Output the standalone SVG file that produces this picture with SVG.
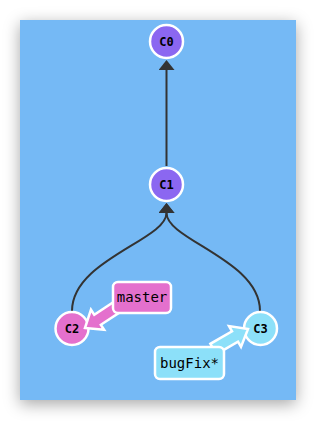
<svg xmlns="http://www.w3.org/2000/svg" width="316" height="421" viewBox="0 0 316 421">
<defs>
<filter id="sh" x="-20%" y="-20%" width="140%" height="140%"><feDropShadow dx="0" dy="4" stdDeviation="8" flood-color="#000" flood-opacity="0.35"/></filter>
<marker id="ah" viewBox="0 0 10 16" refX="0" refY="8" markerWidth="10" markerHeight="16" markerUnits="userSpaceOnUse" orient="auto"><path d="M0,0 L10,8 L0,16 Z" fill="#333"/></marker>
<style>
.edge{fill:none;stroke:#333;stroke-width:2;marker-end:url(#ah)}
.node circle{stroke:#fff;stroke-width:2.5}
.node text{font-family:"DejaVu Sans Mono","Liberation Mono",monospace;font-size:12px;font-weight:bold;text-anchor:middle;fill:#000}
.lbl rect,.lbl polygon{stroke:#fff;stroke-width:2.5;stroke-linejoin:miter}
.lbl text{font-family:"DejaVu Sans Mono","Liberation Mono",monospace;font-size:14px;text-anchor:middle;fill:#000}
.purple{fill:#8b67f1}.pink{fill:#e470cd}.cyan{fill:#8ce0f9}
</style>
</defs>
<rect x="20" y="20" width="276" height="380" fill="#75b9f5" filter="url(#sh)"/>
<g id="connectors">
<path class="edge" d="M166.5,166 L166.5,70"/>
<path class="edge" d="M72,311 C72,260 166.5,240 166.5,213"/>
<path class="edge" d="M260,311 C260,260 166.5,240 166.5,213"/>
</g>
<g id="C0" class="node"><circle cx="166.5" cy="41.5" r="16.5" class="purple"/><text x="166.5" y="45.5">C0</text></g>
<g id="C1" class="node"><circle cx="166.5" cy="184.5" r="16.5" class="purple"/><text x="166.5" y="188.5">C1</text></g>
<g id="C2" class="node"><circle cx="72" cy="328.5" r="16.5" class="pink"/><text x="72" y="332.5">C2</text></g>
<g id="C3" class="node"><circle cx="260.5" cy="328.5" r="16.5" class="cyan"/><text x="260.5" y="332.5">C3</text></g>
<g id="master" class="lbl">
<polygon class="pink" points="0,0 -15,-12 -15,-6 -40,-6 -40,6 -15,6 -15,12" transform="translate(85,328) rotate(146.7)"/>
<rect x="113" y="282" width="58" height="31" rx="5" class="pink"/>
<text x="142" y="302">master</text>
</g>
<g id="bugFix" class="lbl">
<polygon class="cyan" points="0,0 -15,-12 -15,-6 -40,-6 -40,6 -15,6 -15,12" transform="translate(248,329) rotate(-30)"/>
<rect x="155" y="347" width="69" height="32" rx="5" class="cyan"/>
<text x="189.5" y="368">bugFix*</text>
</g>
</svg>
